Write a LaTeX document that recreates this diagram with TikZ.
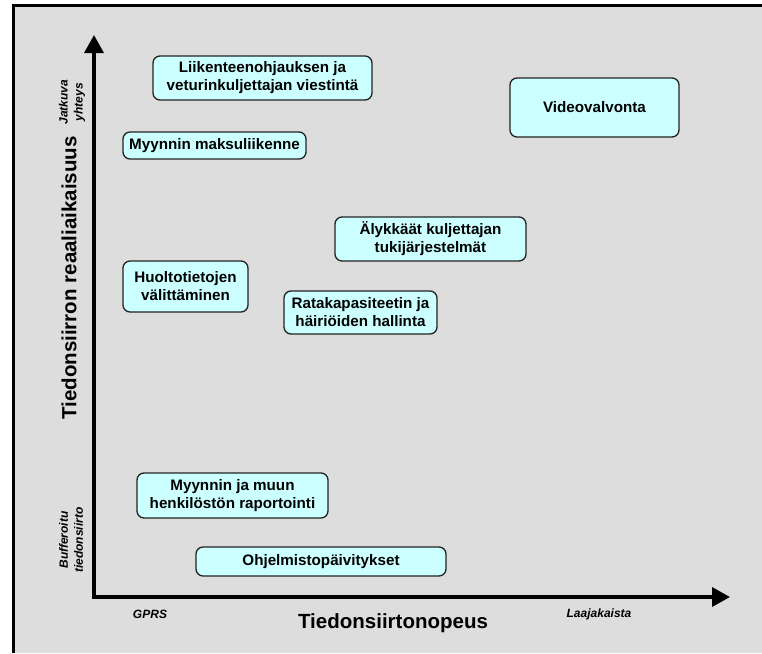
\documentclass[tikz,border=0pt]{standalone}
\usepackage{fontspec}
\setmainfont{Liberation Sans}
\usetikzlibrary{arrows.meta}
\definecolor{panelgray}{HTML}{DDDDDD}
\definecolor{boxcyan}{HTML}{CCFFFF}
\definecolor{edgedark}{HTML}{222222}
\tikzset{
  appbox/.style={draw=edgedark, line width=1.3pt, fill=boxcyan, rounded corners=7pt,
    align=center, inner sep=0pt, font=\fontsize{15.2}{18}\selectfont\bfseries},
  axisline/.style={line width=3.5pt, -{Triangle[length=18pt,width=19pt]}},
  axistitle/.style={font=\fontsize{20.5}{24}\selectfont\bfseries},
  axisnote/.style={font=\fontsize{12}{15}\selectfont\bfseries\itshape, align=center}
}
\begin{document}
\begin{tikzpicture}[x=1pt,y=-1pt]
\useasboundingbox (0,0) rectangle (762,653);
% panel background and its frame
\fill[panelgray] (14,6) rectangle (762,653);
\draw[line width=3pt] (13,653) -- (13,5) -- (762,5);

% axes
\coordinate (origin) at (94,597);
\coordinate (ytop) at (94,35);
\coordinate (xend) at (730,597);
\draw[axisline] (origin) -- (ytop);
\draw[axisline] (origin) -- (xend);
\fill (92.25,597) rectangle (95.75,598.75);

% axis titles and end notes
\node[axistitle, rotate=90] (ytitle) at (69,278) {Tiedonsiirron reaaliaikaisuus};
\node[axistitle] (xtitle) at (393,623) {Tiedonsiirtonopeus};
\node[axisnote] (gprs) at (150,614) {GPRS};
\node[axisnote] (wide) at (599,614) {Laajakaista};
\node[axisnote, rotate=90] (cont) at (72,102) {Jatkuva\\yhteys};
\node[axisnote, rotate=90] (buff) at (71,540) {Bufferoitu\\tiedonsiirto};

% application boxes
\node[appbox, minimum width=219pt, minimum height=44pt] (liik) at (262.5,78)
  {Liikenteenohjauksen ja\\veturinkuljettajan viestintä};
\node[appbox, minimum width=183pt, minimum height=27pt] (maksu) at (214.5,145.5)
  {Myynnin maksuliikenne};
\node[appbox, minimum width=169pt, minimum height=59pt] (video) at (594.5,107.5)
  {Videovalvonta};
\node[appbox, minimum width=191pt, minimum height=44pt] (aly) at (430.5,239)
  {Älykkäät kuljettajan\\tukijärjestelmät};
\node[appbox, minimum width=153pt, minimum height=43pt] (rata) at (360.5,312.5)
  {Ratakapasiteetin ja\\häiriöiden hallinta};
\node[appbox, minimum width=125pt, minimum height=51pt] (huolto) at (185.5,286.5)
  {Huoltotietojen\\välittäminen};
\node[appbox, minimum width=191pt, minimum height=45pt] (rap) at (232.5,495.5)
  {Myynnin ja muun\\henkilöstön raportointi};
\node[appbox, minimum width=250pt, minimum height=29pt] (ohj) at (321,561.5)
  {Ohjelmistopäivitykset};
\end{tikzpicture}
\end{document}
